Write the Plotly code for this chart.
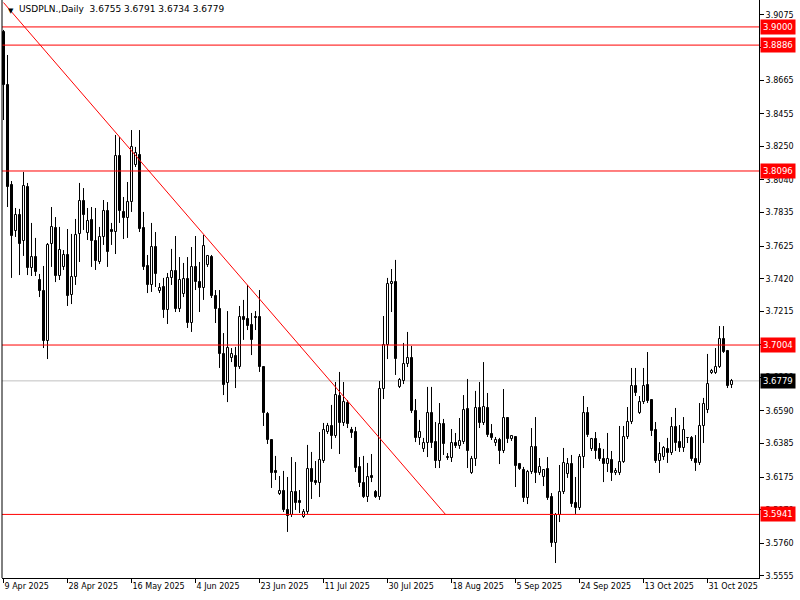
import plotly.graph_objects as go

# daily OHLC, 9 Apr 2025 -> 7 Nov 2025 (broker with Sunday bars)
opens = [3.8968, 3.8636, 3.8008, 3.7720, 3.7820, 3.7657, 3.7996, 3.7487, 3.7556, 3.7412,
         3.7343, 3.7029, 3.7638, 3.7738, 3.7437, 3.7494, 3.7569, 3.7318, 3.7431, 3.7701,
         3.7908, 3.7707, 3.7789, 3.7657, 3.7525, 3.7682, 3.7845, 3.7726, 3.7713, 3.8190,
         3.7839, 3.7801, 3.7901, 3.8134, 3.8196, 3.7738, 3.7500, 3.7381, 3.7619, 3.7343,
         3.7368, 3.7224, 3.7425, 3.7469, 3.7230, 3.7324, 3.7418, 3.7142, 3.7494, 3.7399,
         3.7362, 3.7506, 3.7556, 3.7312, 3.7230, 3.6948, 3.6766, 3.6923, 3.6935, 3.6866,
         3.7180, 3.7167, 3.7130, 3.7180, 3.7180, 3.6866, 3.6571, 3.6408, 3.6214, 3.6069,
         3.6088, 3.5969, 3.5937, 3.6082, 3.6025, 3.5925, 3.5956, 3.6226, 3.6151, 3.6138,
         3.6276, 3.6458, 3.6496, 3.6433, 3.6684, 3.6515, 3.6640, 3.6471, 3.6458, 3.6239,
         3.6138, 3.6050, 3.6182, 3.6082, 3.6050, 3.6728, 3.7004, 3.7387, 3.7399, 3.6741,
         3.6778, 3.6885, 3.6923, 3.6590, 3.6421, 3.6352, 3.6389, 3.6577, 3.6395, 3.6276,
         3.6508, 3.6301, 3.6295, 3.6389, 3.6370, 3.6395, 3.6603, 3.6201, 3.6289, 3.6609,
         3.6515, 3.6609, 3.6446, 3.6389, 3.6408, 3.6339, 3.6546, 3.6414, 3.6427, 3.6257,
         3.6220, 3.6044, 3.6207, 3.6364, 3.6201, 3.6176, 3.6226, 3.6050, 3.5762, 3.5937,
         3.6082, 3.6195, 3.6257, 3.6013, 3.5981, 3.6301, 3.6577, 3.6352, 3.6414, 3.6352,
         3.6289, 3.6257, 3.6283, 3.6201, 3.6201, 3.6270, 3.6427, 3.6521, 3.6747, 3.6577,
         3.6646, 3.6753, 3.6659, 3.6471, 3.6276, 3.6301, 3.6352, 3.6326, 3.6490, 3.6395,
         3.6358, 3.6421, 3.6421, 3.6289, 3.6264, 3.6496, 3.6596, 3.6828, 3.6828, 3.6866,
         3.7042, 3.6967, 3.6755]
highs = [3.8981, 3.8824, 3.8033, 3.7864, 3.7858, 3.8090, 3.8021, 3.7770, 3.7676, 3.7450,
         3.7500, 3.7644, 3.7870, 3.7807, 3.7745, 3.7600, 3.7732, 3.7701, 3.7795, 3.8021,
         3.7989, 3.7864, 3.7870, 3.7864, 3.7745, 3.7914, 3.7901, 3.7770, 3.8322, 3.8309,
         3.7933, 3.8027, 3.8353, 3.8247, 3.8353, 3.7839, 3.7569, 3.7770, 3.7713, 3.7393,
         3.7425, 3.7456, 3.7607, 3.7688, 3.7556, 3.7519, 3.7556, 3.7619, 3.7688, 3.7525,
         3.7694, 3.7569, 3.7569, 3.7349, 3.7349, 3.7079, 3.7217, 3.6985, 3.6992, 3.7249,
         3.7287, 3.7381, 3.7205, 3.7217, 3.7349, 3.6872, 3.6584, 3.6414, 3.6308, 3.6182,
         3.6214, 3.6176, 3.6301, 3.6270, 3.6094, 3.5975, 3.6377, 3.6333, 3.6276, 3.6458,
         3.6515, 3.6515, 3.6628, 3.6772, 3.6835, 3.6772, 3.6659, 3.6490, 3.6490, 3.6301,
         3.6308, 3.6264, 3.6320, 3.6094, 3.6778, 3.7186, 3.7425, 3.7481, 3.7538, 3.6797,
         3.7017, 3.7086, 3.6998, 3.6665, 3.6534, 3.6421, 3.6741, 3.6741, 3.6521, 3.6640,
         3.6540, 3.6326, 3.6477, 3.6452, 3.6546, 3.6690, 3.6791, 3.6308, 3.6716, 3.6772,
         3.6897, 3.6703, 3.6508, 3.6427, 3.6421, 3.6728, 3.6552, 3.6439, 3.6433, 3.6264,
         3.6239, 3.6220, 3.6483, 3.6552, 3.6295, 3.6226, 3.6301, 3.6075, 3.5950, 3.6251,
         3.6358, 3.6295, 3.6314, 3.6176, 3.6320, 3.6684, 3.6615, 3.6421, 3.6458, 3.6389,
         3.6352, 3.6452, 3.6339, 3.6232, 3.6496, 3.6496, 3.6615, 3.6860, 3.6860, 3.6684,
         3.6860, 3.6960, 3.6665, 3.6521, 3.6395, 3.6370, 3.6421, 3.6552, 3.6609, 3.6502,
         3.6552, 3.6423, 3.6433, 3.6439, 3.6640, 3.6672, 3.6948, 3.6854, 3.6985, 3.7123,
         3.7123, 3.6973, 3.6791]
lows = [3.8416, 3.7870, 3.7425, 3.7682, 3.7443, 3.7563, 3.7443, 3.7437, 3.7437, 3.7305,
        3.6985, 3.6916, 3.7494, 3.7399, 3.7412, 3.7475, 3.7249, 3.7261, 3.7381, 3.7525,
        3.7726, 3.7663, 3.7494, 3.7475, 3.7512, 3.7632, 3.7494, 3.7632, 3.7575, 3.7770,
        3.7669, 3.7676, 3.7839, 3.8121, 3.7713, 3.7475, 3.7330, 3.7337, 3.7368, 3.7330,
        3.7174, 3.7136, 3.7381, 3.7211, 3.7211, 3.7305, 3.7111, 3.7086, 3.7349, 3.7211,
        3.7287, 3.7494, 3.7299, 3.7142, 3.6860, 3.6690, 3.6646, 3.6897, 3.6734, 3.6854,
        3.7036, 3.7098, 3.6941, 3.7098, 3.6835, 3.6496, 3.6383, 3.6107, 3.6157, 3.6063,
        3.5956, 3.5831, 3.5925, 3.5969, 3.5950, 3.5919, 3.5944, 3.6038, 3.6126, 3.6050,
        3.6264, 3.6446, 3.6352, 3.6421, 3.6320, 3.6496, 3.6483, 3.6421, 3.6207, 3.6113,
        3.6044, 3.6019, 3.6144, 3.6044, 3.6032, 3.6665, 3.6916, 3.7211, 3.6816, 3.6734,
        3.6759, 3.6866, 3.6577, 3.6395, 3.6377, 3.6333, 3.6301, 3.6358, 3.6232, 3.6232,
        3.6314, 3.6283, 3.6270, 3.6358, 3.6352, 3.6383, 3.6232, 3.6195, 3.6245, 3.6483,
        3.6502, 3.6427, 3.6408, 3.6370, 3.6257, 3.6326, 3.6389, 3.6402, 3.6113, 3.6220,
        3.6019, 3.6006, 3.6195, 3.6138, 3.6188, 3.6119, 3.6032, 3.5737, 3.5636, 3.5893,
        3.6069, 3.6170, 3.5988, 3.5944, 3.5969, 3.6232, 3.6427, 3.6339, 3.6289, 3.6276,
        3.6144, 3.6207, 3.6151, 3.6188, 3.6188, 3.6264, 3.6414, 3.6508, 3.6684, 3.6571,
        3.6634, 3.6640, 3.6433, 3.6264, 3.6201, 3.6283, 3.6264, 3.6314, 3.6339, 3.6333,
        3.6333, 3.6389, 3.6276, 3.6214, 3.6251, 3.6389, 3.6577, 3.6822, 3.6822, 3.6860,
        3.6954, 3.6734, 3.6734]
closes = [3.8636, 3.7996, 3.7688, 3.7820, 3.7638, 3.8002, 3.7487, 3.7556, 3.7462, 3.7343,
          3.7029, 3.7632, 3.7745, 3.7437, 3.7600, 3.7569, 3.7312, 3.7431, 3.7694, 3.7908,
          3.7820, 3.7782, 3.7657, 3.7531, 3.7682, 3.7845, 3.7588, 3.7713, 3.8190, 3.7845,
          3.7801, 3.7901, 3.8247, 3.8209, 3.7732, 3.7494, 3.7381, 3.7619, 3.7450, 3.7362,
          3.7224, 3.7425, 3.7469, 3.7230, 3.7412, 3.7418, 3.7142, 3.7494, 3.7399, 3.7362,
          3.7625, 3.7563, 3.7312, 3.7230, 3.6948, 3.6753, 3.6985, 3.6948, 3.6866, 3.7180,
          3.7161, 3.7123, 3.7036, 3.7174, 3.6866, 3.6577, 3.6408, 3.6201, 3.6201, 3.6088,
          3.5969, 3.5931, 3.6082, 3.6013, 3.6013, 3.5956, 3.6226, 3.6144, 3.6138, 3.6283,
          3.6471, 3.6496, 3.6433, 3.6690, 3.6515, 3.6646, 3.6508, 3.6452, 3.6232, 3.6138,
          3.6050, 3.6176, 3.6170, 3.6050, 3.6728, 3.7004, 3.7387, 3.7399, 3.6916, 3.6785,
          3.6885, 3.6923, 3.6590, 3.6421, 3.6458, 3.6389, 3.6577, 3.6389, 3.6276, 3.6508,
          3.6383, 3.6295, 3.6389, 3.6370, 3.6402, 3.6596, 3.6339, 3.6289, 3.6609, 3.6515,
          3.6615, 3.6439, 3.6421, 3.6408, 3.6339, 3.6546, 3.6414, 3.6433, 3.6245, 3.6226,
          3.6044, 3.6207, 3.6364, 3.6201, 3.6239, 3.6220, 3.6044, 3.5762, 3.5937, 3.6082,
          3.6264, 3.6257, 3.6006, 3.5981, 3.6301, 3.6577, 3.6439, 3.6414, 3.6339, 3.6289,
          3.6257, 3.6289, 3.6201, 3.6214, 3.6270, 3.6427, 3.6521, 3.6747, 3.6703, 3.6646,
          3.6747, 3.6653, 3.6464, 3.6276, 3.6320, 3.6358, 3.6326, 3.6490, 3.6389, 3.6358,
          3.6471, 3.6420, 3.6289, 3.6264, 3.6496, 3.6634, 3.6759, 3.6841, 3.6866, 3.7042,
          3.6960, 3.6747, 3.6779]

date_ticks = [0, 16, 32, 48, 64, 80, 96, 112, 128, 144, 160, 176]
date_labels = ["9 Apr 2025", "28 Apr 2025", "16 May 2025", "4 Jun 2025", "23 Jun 2025",
               "11 Jul 2025", "30 Jul 2025", "18 Aug 2025", "5 Sep 2025", "24 Sep 2025",
               "13 Oct 2025", "31 Oct 2025"]
price_ticks = [3.5555, 3.5760, 3.5970, 3.6175, 3.6385, 3.6590, 3.6800, 3.7005, 3.7215,
               3.7420, 3.7625, 3.7835, 3.8040, 3.8250, 3.8455, 3.8665, 3.8870, 3.9075]
# 3.7005 sits fully under the 3.7004 level tag, so its text is not drawn
price_labels = ["3.5555", "3.5760", "3.5970", "3.6175", "3.6385", "3.6590", "3.6800",
                "", "3.7215", "3.7420", "3.7625", "3.7835", "3.8040", "3.8250",
                "3.8455", "3.8665", "3.8870", "3.9075"]

levels = [3.9000, 3.8886, 3.8096, 3.7004, 3.5941]
bid = 3.6779
trend_x = [0, 110.5]
trend_y = [3.9153, 3.5941]

FONT = "DejaVu Sans"
idx = list(range(len(opens)))

body_base, body_h, body_col = [], [], []
wick_x, wick_y = [], []
for i, o, h, l, c in zip(idx, opens, highs, lows, closes):
    top, bot = max(o, c), min(o, c)
    body_base.append(bot)
    body_h.append(max(top - bot, 0.00008))
    body_col.append("white" if c >= o else "black")
    wick_x += [i, i, None, i, i, None]
    wick_y += [top, h, None, l, bot, None]

fig = go.Figure()
fig.add_trace(go.Bar(
    x=idx, y=body_h, base=body_base, width=0.5,
    marker=dict(color=body_col, line=dict(color="black", width=1)),
    hoverinfo="skip", showlegend=False
))
fig.add_trace(go.Scatter(
    x=wick_x, y=wick_y, mode="lines",
    line=dict(color="black", width=1),
    hoverinfo="skip", showlegend=False
))

shapes = []
# current bid line
shapes.append(dict(type="line", xref="paper", x0=0, x1=1, yref="y", y0=bid, y1=bid,
                   line=dict(color="#c0c0c0", width=1), layer="below"))
for lv in levels:
    shapes.append(dict(type="line", xref="paper", x0=0, x1=1, yref="y", y0=lv, y1=lv,
                       line=dict(color="red", width=1)))
shapes.append(dict(type="line", xref="x", yref="y", x0=trend_x[0], y0=trend_y[0],
                   x1=trend_x[1], y1=trend_y[1], line=dict(color="red", width=1)))
# left frame edge
shapes.append(dict(type="line", xref="paper", yref="paper", x0=0, x1=0, y0=0, y1=1,
                   line=dict(color="black", width=1)))

annotations = [
    dict(xref="paper", yref="paper", x=0, y=1, xanchor="left", yanchor="top",
         xshift=4, yshift=-5, text="▼", showarrow=False,
         font=dict(family=FONT, size=7, color="black")),
    dict(xref="paper", yref="paper", x=0, y=1, xanchor="left", yanchor="top",
         xshift=15, yshift=-2, showarrow=False,
         text="USDPLN.,Daily\u00a0\u00a03.6755 3.6791 3.6734 3.6779",
         font=dict(family=FONT, size=9, color="black")),
]
for lv in levels:
    annotations.append(dict(xref="paper", yref="y", x=1, y=lv, xanchor="left",
                            yanchor="middle", xshift=1, text=f"{lv:.4f}", showarrow=False,
                            bgcolor="red", borderpad=2,
                            font=dict(family=FONT, size=8.5, color="white")))
annotations.append(dict(xref="paper", yref="y", x=1, y=bid, xanchor="left",
                        yanchor="middle", xshift=1, text=f"{bid:.4f}", showarrow=False,
                        bgcolor="black", borderpad=2,
                        font=dict(family=FONT, size=8.5, color="white")))

fig.update_layout(
    width=800, height=600,
    margin=dict(l=2, r=41, t=0, b=22),
    paper_bgcolor="white", plot_bgcolor="white",
    bargap=0, showlegend=False,
    font=dict(family=FONT, size=8, color="black"),
    shapes=shapes, annotations=annotations,
    xaxis=dict(range=[-0.375, 188.875], tickvals=date_ticks, ticktext=date_labels,
               ticks="outside", ticklen=4, tickcolor="black", showline=True,
               linecolor="black", linewidth=1, showgrid=False, zeroline=False,
               ticklabelposition="outside right", tickfont=dict(size=8)),
    yaxis=dict(range=[3.5542, 3.9169], side="right",
               tickvals=price_ticks, ticktext=price_labels,
               ticks="outside", ticklen=4, tickcolor="black", showline=True,
               linecolor="black", linewidth=1, showgrid=False, zeroline=False,
               tickfont=dict(size=8)),
)

# drop the page's default body margin so the figure sits at the window's top-left
fig.write_html("out.html", config={"displayModeBar": False},
               post_script="document.body.style.margin='0';")
